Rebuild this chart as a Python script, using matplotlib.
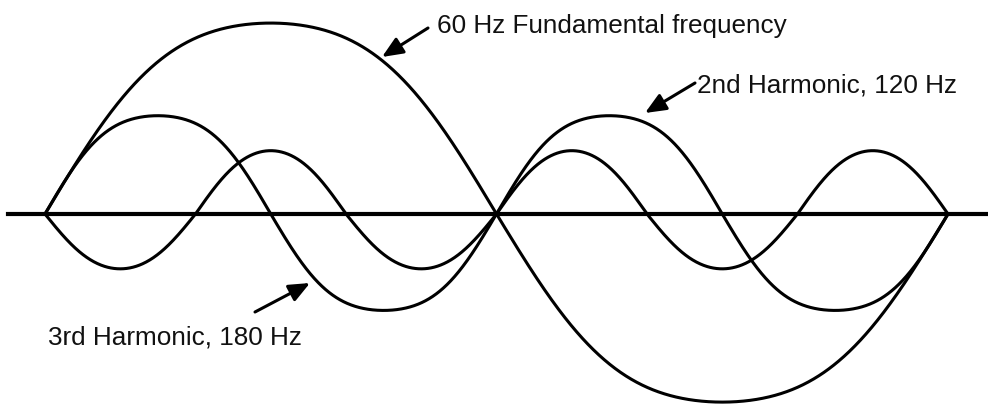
import matplotlib.pyplot as plt
import numpy as np

# 60 Hz fundamental and its 2nd and 3rd harmonics (one period of the fundamental)
freqs = [60, 120, 180]              # Hz
amp_up = [1.01, 0.52, 0.335]        # height of the upper lobes, relative to the fundamental
amp_down = [0.995, 0.51, 0.29]      # depth of the lower lobes
signs = [1, 1, -1]                  # the 3rd harmonic starts downward
flat = [0.06, 0.06, 0.02]           # the drawn lobes are a bit fuller than a pure sine
labels = ["60 Hz Fundamental frequency", "2nd Harmonic, 120 Hz", "3rd Harmonic, 180 Hz"]

W, H = 988, 404
t = np.linspace(0, 1000 / freqs[0], 2000)   # ms

fig = plt.figure(figsize=(W / 100, H / 100), dpi=100)
ax = fig.add_axes([0, 0, 1, 1])

for f, au, ad, s, k in zip(freqs, amp_up, amp_down, signs, flat):
    ph = 2 * np.pi * f * t / 1000
    y = s * (np.sin(ph) + k * np.sin(3 * ph)) / (1 - k)
    y = np.where(y > 0, y * au, y * ad)
    ax.plot(t, y, color="black", lw=2.2, solid_capstyle="round")

ax.axhline(0, xmin=8 / W, xmax=1, color="black", lw=3)
ax.set_xlim(-0.8306, 17.405)
ax.set_ylim(-1.005, 1.132)
ax.axis("off")

# label text (left x, baseline y from top, in pixels) and arrows (tail -> head)
text_pos = [(437, 33), (697, 92), (48, 345)]
arrows = [((428, 28), (382, 57)), ((695, 83), (645, 113)), ((255, 312), (310, 283))]

for lab, (tx, ty), (tail, head) in zip(labels, text_pos, arrows):
    ax.text(tx, H - ty, lab, transform=None, ha="left", va="baseline",
            fontsize=18.8, family="Liberation Sans", color="#111111")
    ax.annotate("", xy=(head[0], H - head[1]), xycoords="figure pixels",
                xytext=(tail[0], H - tail[1]), textcoords="figure pixels",
                arrowprops=dict(arrowstyle="-|>,head_length=0.7,head_width=0.3",
                                lw=2.2, color="black", mutation_scale=18,
                                shrinkA=0, shrinkB=0))

fig.savefig("out.png", dpi=100)
